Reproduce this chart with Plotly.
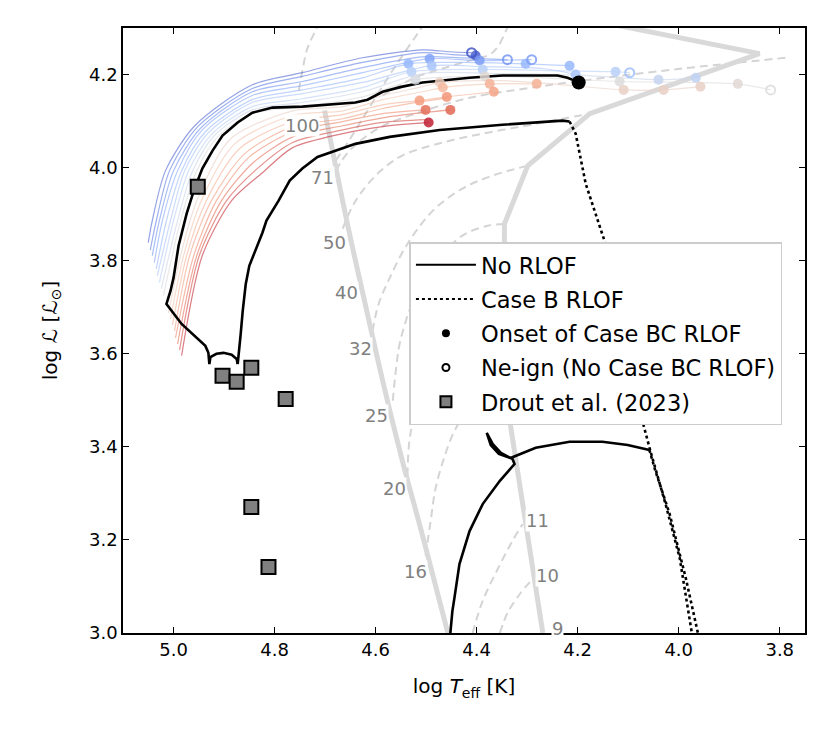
import plotly.graph_objects as go
from plotly.colors import sample_colorscale

# ---- axes ----
x_ticks = [5.0, 4.8, 4.6, 4.4, 4.2, 4.0, 3.8]
y_ticks = [3.0, 3.2, 3.4, 3.6, 3.8, 4.0, 4.2]

# ---- thick grey lines (ZAMS and end points of the mass tracks) ----
zams_x = [4.701, 4.655, 4.622, 4.586, 4.547, 4.507, 4.457]
zams_y = [4.123, 3.875, 3.714, 3.542, 3.370, 3.209, 3.000]
tams_x = [4.230, 3.840, 4.176, 4.299, 4.345, 4.345, 4.339, 4.335, 4.269]
tams_y = [4.329, 4.245, 4.116, 4.004, 3.879, 3.757, 3.516, 3.460, 3.000]

# ---- dashed grey single-star tracks ----
dash_tracks = {
    "s1": ([4.752, 4.745, 4.735, 4.719, 4.709], [4.165, 4.208, 4.256, 4.294, 4.316]),
    "s2": ([4.679, 4.655, 4.626, 4.592, 4.556, 4.513, 4.497], [4.015, 4.054, 4.105, 4.165, 4.226, 4.294, 4.320]),
    "s3": ([4.586, 4.527, 4.467, 4.414, 4.374, 4.358, 4.339, 4.331], [4.155, 4.191, 4.213, 4.230, 4.243, 4.260, 4.301, 4.322]),
    "m71": ([4.679, 4.652, 4.592, 4.521, 4.414, 4.303, 4.190, 3.992, 3.788], [3.993, 4.036, 4.086, 4.116, 4.150, 4.170, 4.187, 4.213, 4.236]),
    "m50": ([4.665, 4.648, 4.626, 4.590, 4.547, 4.467, 4.388, 4.303, 4.230, 4.176], [3.869, 3.912, 3.950, 3.993, 4.026, 4.054, 4.073, 4.090, 4.105, 4.116]),
    "m40": ([4.606, 4.594, 4.572, 4.537, 4.487, 4.428, 4.368, 4.299], [3.649, 3.707, 3.763, 3.836, 3.907, 3.955, 3.983, 4.004]),
    "m32": ([4.566, 4.560, 4.551, 4.523, 4.483, 4.428, 4.378, 4.345], [3.499, 3.563, 3.628, 3.720, 3.793, 3.854, 3.875, 3.879]),
    "m25": ([4.537, 4.533, 4.521, 4.497, 4.457, 4.408, 4.345], [3.338, 3.413, 3.477, 3.563, 3.649, 3.714, 3.757]),
    "m20": ([4.501, 4.491, 4.481, 4.463, 4.444, 4.424, 4.388, 4.339], [3.166, 3.241, 3.312, 3.381, 3.434, 3.467, 3.499, 3.516]),
    "m11": ([4.408, 4.388, 4.358, 4.329, 4.309], [3.000, 3.069, 3.138, 3.198, 3.234]),
    "m10": ([4.354, 4.339, 4.313, 4.289], [3.000, 3.043, 3.086, 3.116]),
}

mass_labels = ["100", "71", "50", "40", "32", "25", "20", "16", "11", "10", "9"]
label_x = [4.745, 4.705, 4.681, 4.657, 4.630, 4.598, 4.562, 4.521, 4.279, 4.259, 4.240]
label_y = [4.090, 3.978, 3.839, 3.731, 3.611, 3.467, 3.310, 3.133, 3.241, 3.123, 3.009]

# ---- coloured binary tracks (colour parameter 0 = blue ... 1 = red) ----
u0_x = [5.050, 5.042, 5.016, 4.958, 4.844, 4.745, 4.626, 4.507, 4.454, 4.410]
u0_y = [3.839, 3.886, 3.993, 4.090, 4.178, 4.204, 4.236, 4.253, 4.249, 4.247]
u1_x = [5.046, 5.034, 5.008, 4.952, 4.844, 4.745, 4.626, 4.507, 4.448, 4.402]
u1_y = [3.823, 3.886, 3.993, 4.088, 4.170, 4.196, 4.226, 4.247, 4.243, 4.241]
u2_x = [5.042, 5.028, 5.000, 4.947, 4.844, 4.745, 4.626, 4.507, 4.428, 4.339]
u2_y = [3.811, 3.886, 3.993, 4.084, 4.163, 4.185, 4.215, 4.238, 4.236, 4.232]
u3_x = [5.038, 5.022, 4.992, 4.943, 4.844, 4.745, 4.626, 4.493, 4.394, 4.291]
u3_y = [3.796, 3.886, 3.993, 4.081, 4.155, 4.176, 4.204, 4.234, 4.230, 4.232]
u4_x = [5.034, 5.014, 4.984, 4.937, 4.844, 4.745, 4.626, 4.535, 4.428, 4.303, 4.216]
u4_y = [3.783, 3.886, 3.993, 4.077, 4.146, 4.167, 4.193, 4.223, 4.226, 4.223, 4.219]
u5_x = [5.032, 5.006, 4.978, 4.931, 4.844, 4.745, 4.626, 4.489, 4.388, 4.269, 4.204]
u5_y = [3.768, 3.886, 3.993, 4.075, 4.140, 4.159, 4.183, 4.219, 4.217, 4.213, 4.200]
u6_x = [5.028, 5.000, 4.970, 4.925, 4.844, 4.745, 4.626, 4.529, 4.388, 4.230, 4.125, 4.097]
u6_y = [3.753, 3.886, 3.993, 4.071, 4.131, 4.148, 4.172, 4.206, 4.211, 4.208, 4.206, 4.204]
u7_x = [5.024, 4.992, 4.962, 4.919, 4.844, 4.745, 4.626, 4.507, 4.349, 4.190, 4.040, 3.966]
u7_y = [3.740, 3.886, 3.993, 4.069, 4.124, 4.140, 4.163, 4.202, 4.202, 4.198, 4.189, 4.193]
u8_x = [5.020, 4.986, 4.954, 4.913, 4.844, 4.745, 4.626, 4.521, 4.384, 4.230, 4.117, 3.883, 3.818]
u8_y = [3.725, 3.886, 3.993, 4.066, 4.116, 4.131, 4.152, 4.189, 4.196, 4.191, 4.185, 4.180, 4.167]

r0_x = [5.010, 4.986, 4.954, 4.887, 4.764, 4.665, 4.586, 4.507, 4.473, 4.349, 4.230, 4.109, 4.030, 3.957]
r0_y = [3.688, 3.811, 3.929, 4.062, 4.122, 4.131, 4.155, 4.174, 4.183, 4.187, 4.178, 4.167, 4.167, 4.174]
r1_x = [5.006, 4.980, 4.945, 4.879, 4.764, 4.665, 4.586, 4.507, 4.467, 4.374, 4.281]
r1_y = [3.675, 3.811, 3.929, 4.051, 4.112, 4.122, 4.146, 4.163, 4.172, 4.180, 4.180]
r2_x = [5.002, 4.974, 4.935, 4.869, 4.764, 4.665, 4.586, 4.513, 4.459, 4.366]
r2_y = [3.662, 3.811, 3.929, 4.041, 4.099, 4.114, 4.135, 4.144, 4.152, 4.163]
r3_x = [4.998, 4.968, 4.925, 4.859, 4.764, 4.665, 4.586, 4.507, 4.459]
r3_y = [3.649, 3.811, 3.929, 4.030, 4.088, 4.105, 4.127, 4.142, 4.150]
r4_x = [4.996, 4.960, 4.915, 4.852, 4.764, 4.665, 4.586, 4.501]
r4_y = [3.634, 3.811, 3.929, 4.021, 4.077, 4.099, 4.116, 4.124]
r5_x = [4.992, 4.954, 4.905, 4.842, 4.764, 4.665, 4.586, 4.507, 4.452]
r5_y = [3.621, 3.811, 3.929, 4.011, 4.066, 4.090, 4.107, 4.118, 4.124]
r6_x = [4.988, 4.949, 4.895, 4.832, 4.764, 4.665, 4.586, 4.499]
r6_y = [3.608, 3.811, 3.929, 4.000, 4.054, 4.081, 4.097, 4.103]
r7_x = [4.984, 4.943, 4.885, 4.824, 4.764, 4.665, 4.586, 4.495]
r7_y = [3.596, 3.811, 3.929, 3.989, 4.043, 4.073, 4.088, 4.097]

track_c = [0.06, 0.11, 0.17, 0.23, 0.28, 0.33, 0.38, 0.44, 0.50,
           0.56, 0.62, 0.68, 0.73, 0.78, 0.84, 0.90, 0.95]

# events on the coloured tracks
dot_x = [4.402, 4.493, 4.394, 4.535, 4.303, 4.216, 4.489, 4.204, 4.529, 4.388, 4.125,
         4.040, 3.966, 4.521, 4.384, 4.117, 3.883, 4.473, 4.109, 4.030, 3.957,
         4.467, 4.374, 4.281, 4.513, 4.459, 4.366, 4.501, 4.452, 4.495]
dot_y = [4.241, 4.234, 4.230, 4.223, 4.223, 4.219, 4.219, 4.200, 4.206, 4.211, 4.206,
         4.189, 4.193, 4.189, 4.196, 4.185, 4.180, 4.183, 4.167, 4.167, 4.174,
         4.172, 4.180, 4.180, 4.144, 4.152, 4.163, 4.124, 4.124, 4.097]
dot_c = [0.05, 0.22, 0.20, 0.28, 0.28, 0.28, 0.33, 0.33, 0.38, 0.38, 0.38,
         0.42, 0.40, 0.48, 0.52, 0.50, 0.52, 0.58, 0.56, 0.56, 0.56,
         0.66, 0.68, 0.68, 0.74, 0.76, 0.72, 0.84, 0.86, 0.96]
open_x = [4.410, 4.339, 4.291, 4.097, 3.818]
open_y = [4.247, 4.232, 4.232, 4.204, 4.167]
open_c = [0.02, 0.18, 0.20, 0.30, 0.50]

# ---- black reference tracks ----
norlof1_x = [4.873, 4.875, 4.885, 4.901, 4.915, 4.927, 4.929, 4.931, 4.937, 4.960, 4.984, 5.014,
             5.006, 5.000, 4.990, 4.974, 4.960, 4.943, 4.923, 4.903, 4.873, 4.844, 4.804, 4.745,
             4.685, 4.640, 4.616, 4.586, 4.547, 4.507, 4.414, 4.349, 4.240, 4.220, 4.206, 4.198]
norlof1_y = [3.578, 3.589, 3.598, 3.602, 3.600, 3.593, 3.578, 3.602, 3.617, 3.639, 3.664, 3.707,
             3.735, 3.763, 3.832, 3.901, 3.950, 3.998, 4.036, 4.069, 4.097, 4.118, 4.129, 4.131,
             4.137, 4.140, 4.146, 4.163, 4.174, 4.183, 4.193, 4.198, 4.198, 4.193, 4.187, 4.183]
norlof2_x = [4.873, 4.869, 4.867, 4.863, 4.857, 4.850, 4.838, 4.824, 4.816, 4.792, 4.770, 4.745,
             4.715, 4.679, 4.640, 4.572, 4.473, 4.349, 4.269, 4.230, 4.216]
norlof2_y = [3.578, 3.617, 3.643, 3.692, 3.750, 3.789, 3.821, 3.860, 3.886, 3.929, 3.972, 3.998,
             4.023, 4.036, 4.051, 4.066, 4.081, 4.092, 4.099, 4.101, 4.099]
caseb2_x = [4.216, 4.204, 4.184, 4.147, 4.111, 4.071, 4.056, 4.026, 3.998, 3.974]
caseb2_y = [4.099, 4.073, 3.965, 3.843, 3.649, 3.452, 3.391, 3.277, 3.161, 3.000]
norlof3_x = [4.452, 4.448, 4.444, 4.434, 4.414, 4.388, 4.354, 4.333, 4.325, 4.329, 4.352, 4.368,
             4.380, 4.372, 4.356, 4.333, 4.283, 4.216, 4.151, 4.101, 4.058]
norlof3_y = [3.000, 3.047, 3.075, 3.148, 3.219, 3.277, 3.327, 3.353, 3.363, 3.374, 3.387, 3.406,
             3.430, 3.404, 3.385, 3.376, 3.398, 3.411, 3.411, 3.404, 3.393]
caseb3_x = [4.058, 4.046, 4.018, 3.986, 3.962]
caseb3_y = [3.393, 3.348, 3.256, 3.118, 3.000]

onset_x = [4.198]
onset_y = [4.183]

drout_x = [4.952, 4.903, 4.875, 4.846, 4.778, 4.846, 4.812]
drout_y = [3.959, 3.553, 3.540, 3.570, 3.503, 3.271, 3.142]

coolwarm = [[0.0, "rgb(59,76,192)"], [0.125, "rgb(98,130,234)"], [0.25, "rgb(141,176,254)"],
            [0.375, "rgb(184,208,249)"], [0.5, "rgb(221,220,220)"], [0.625, "rgb(245,196,173)"],
            [0.75, "rgb(244,154,123)"], [0.875, "rgb(222,96,77)"], [1.0, "rgb(180,4,38)"]]

GREY = "#d9d9d9"
fig = go.Figure()

# grey background structure
for name, (xs, ys) in dash_tracks.items():
    fig.add_trace(go.Scatter(x=xs, y=ys, mode="lines", showlegend=False, hoverinfo="skip",
                             line=dict(color="#d4d4d4", width=2, dash="8px,5px", shape="spline")))
fig.add_trace(go.Scatter(x=zams_x, y=zams_y, mode="lines", showlegend=False, hoverinfo="skip",
                         line=dict(color=GREY, width=5, shape="spline")))
fig.add_trace(go.Scatter(x=tams_x, y=tams_y, mode="lines", showlegend=False, hoverinfo="skip",
                         line=dict(color=GREY, width=5)))

# coloured tracks
tracks = [(u0_x, u0_y), (u1_x, u1_y), (u2_x, u2_y), (u3_x, u3_y), (u4_x, u4_y), (u5_x, u5_y),
          (u6_x, u6_y), (u7_x, u7_y), (u8_x, u8_y), (r0_x, r0_y), (r1_x, r1_y), (r2_x, r2_y),
          (r3_x, r3_y), (r4_x, r4_y), (r5_x, r5_y), (r6_x, r6_y), (r7_x, r7_y)]
for (xs, ys), c in zip(tracks, track_c):
    col = sample_colorscale(coolwarm, [c])[0]
    fig.add_trace(go.Scatter(x=xs, y=ys, mode="lines", showlegend=False, hoverinfo="skip",
                             opacity=0.6, line=dict(color=col, width=1.2, shape="spline", smoothing=0.8)))

# black tracks
blk = dict(color="black", width=2.6)
for xs, ys in [(norlof1_x, norlof1_y), (norlof2_x, norlof2_y), (norlof3_x, norlof3_y)]:
    fig.add_trace(go.Scatter(x=xs, y=ys, mode="lines", showlegend=False, hoverinfo="skip", line=blk))
for xs, ys in [(caseb2_x, caseb2_y), (caseb3_x, caseb3_y)]:
    fig.add_trace(go.Scatter(x=xs, y=ys, mode="lines", showlegend=False, hoverinfo="skip",
                             line=dict(color="black", width=2.6, dash="dot")))

# event markers
fig.add_trace(go.Scatter(x=dot_x, y=dot_y, mode="markers", showlegend=False, hoverinfo="skip",
                         marker=dict(size=10, color=sample_colorscale(coolwarm, dot_c), opacity=0.85,
                                     line=dict(width=0))))
fig.add_trace(go.Scatter(x=open_x, y=open_y, mode="markers", showlegend=False, hoverinfo="skip",
                         marker=dict(size=9, symbol="circle-open", opacity=0.85,
                                     color=sample_colorscale(coolwarm, open_c), line=dict(width=2))))
fig.add_trace(go.Scatter(x=onset_x, y=onset_y, mode="markers", showlegend=False, hoverinfo="skip",
                         marker=dict(size=14, color="black")))
fig.add_trace(go.Scatter(x=drout_x, y=drout_y, mode="markers", showlegend=False, hoverinfo="skip",
                         marker=dict(size=14, symbol="square", color="#808080",
                                     line=dict(color="black", width=2))))

# legend entries
leg = [
    dict(name="No RLOF", mode="lines", line=dict(color="black", width=2)),
    dict(name="Case B RLOF", mode="lines", line=dict(color="black", width=2, dash="dot")),
    dict(name="Onset of Case BC RLOF", mode="markers", marker=dict(size=8, color="black")),
    dict(name="Ne-ign (No Case BC RLOF)", mode="markers",
         marker=dict(size=7, symbol="circle-open", color="black", line=dict(width=2))),
    dict(name="Drout et al. (2023)", mode="markers",
         marker=dict(size=11, symbol="square", color="#808080", line=dict(color="black", width=2))),
]
for i, kw in enumerate(leg):
    fig.add_trace(go.Scatter(x=[None], y=[None], legendgroup=f"g{i}", **kw))

for txt, lx, ly in zip(mass_labels, label_x, label_y):
    fig.add_annotation(x=lx, y=ly, text=txt, showarrow=False, bgcolor="white", borderpad=0,
                       font=dict(size=18, color="#808080"))

axis_common = dict(showline=True, linecolor="black", linewidth=1.5, mirror="ticks", ticks="inside",
                   ticklen=6, tickwidth=1.3, tickcolor="black", showgrid=False, zeroline=False,
                   tickfont=dict(size=18, color="black"))
fig.update_xaxes(range=[5.1, 3.75], tickvals=x_ticks, tickformat=".1f",
                 title=dict(text="log <i>T</i><sub>eff</sub> [K]", font=dict(size=20), standoff=20),
                 **axis_common)
fig.update_yaxes(range=[3.0, 4.3], tickvals=y_ticks, tickformat=".1f",
                 title=dict(text="log <i>ℒ</i> [<i>ℒ</i><sub>⊙</sub>]", font=dict(size=20), standoff=26),
                 **axis_common)

fig.update_layout(
    width=830, height=738,
    margin=dict(l=115, r=33, t=20, b=113),
    plot_bgcolor="white", paper_bgcolor="white",
    font=dict(family="DejaVu Sans", color="black"),
    legend=dict(x=0.42, y=0.646, xanchor="left", yanchor="top", bgcolor="white",
                bordercolor="#cccccc", borderwidth=1.5, font=dict(size=22.5),
                tracegroupgap=2, itemwidth=60),
)

fig.write_html("out.html")
